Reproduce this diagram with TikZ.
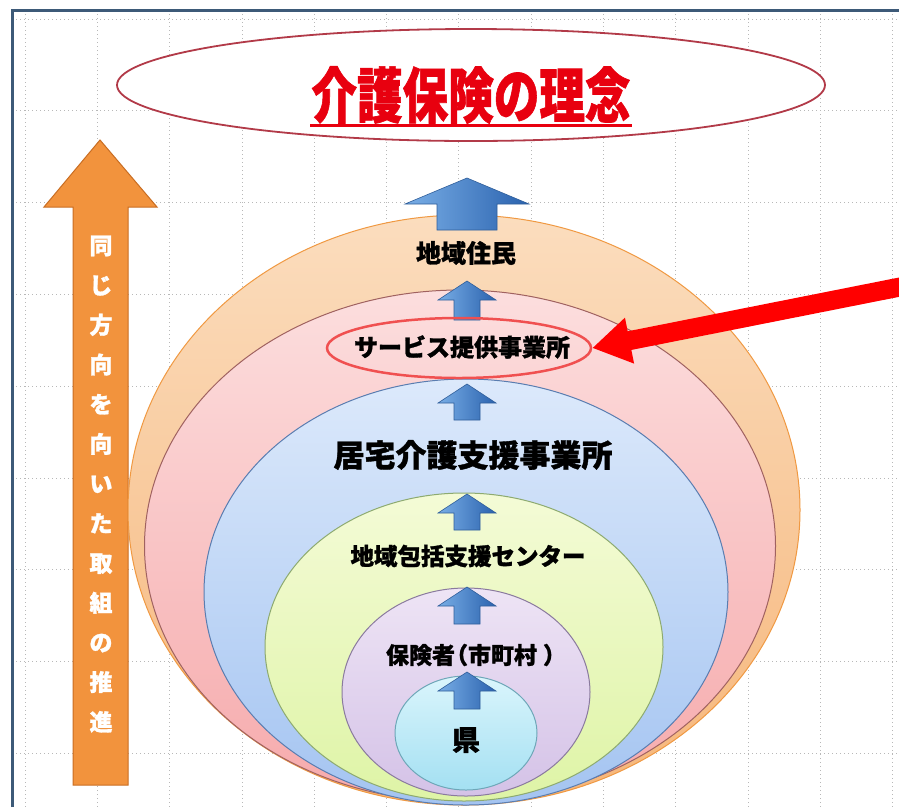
\documentclass[tikz,border=0pt]{standalone}
\usepackage{fontspec}
\newfontfamily\jp{Noto Sans CJK JP}[FakeBold=1.2]
\usetikzlibrary{shapes.geometric, arrows.meta}

\definecolor{frameBlue}{HTML}{3D5A78}
\definecolor{gridGray}{HTML}{B8B8B8}
\definecolor{titleRed}{HTML}{E8000F}
\definecolor{titleEdge}{HTML}{B23A48}
\definecolor{pushFill}{HTML}{F2933D}
\definecolor{pushEdge}{HTML}{C96D22}
\definecolor{arrowLight}{HTML}{79AEE6}
\definecolor{arrowDark}{HTML}{2A62AE}
\definecolor{arrowEdge}{HTML}{2F5E9A}

% one blue up-arrow: x, tip, bottom, head half width, shaft half width, head length
\newcommand{\raiseArrow}[6]{%
  \path[bluearrow] (#1,#2) -- (#1+#4,#2+#6) -- (#1+#5,#2+#6) -- (#1+#5,#3)
    -- (#1-#5,#3) -- (#1-#5,#2+#6) -- (#1-#4,#2+#6) -- cycle;}

\begin{document}
\begin{tikzpicture}[x=1pt, y=-1pt,
    layer/.style={ellipse, draw, line width=1pt, inner sep=0pt},
    level/.style={font=\jp\bfseries\fontsize{25}{25}\selectfont, inner sep=1pt},
    bluearrow/.style={draw=arrowEdge, line width=0.6pt,
                      left color=arrowLight, right color=arrowDark},
    gridline/.style={gridGray, line width=0.8pt, dash pattern=on 1.2pt off 2.8pt}]
  \useasboundingbox (0,0) rectangle (899,807);
  \fill[white] (0,0) rectangle (899,807);

  % Slide grid and frame.
  \foreach \gx in {25,97.3,...,895} \draw[gridline] (\gx,10) -- (\gx,807);
  \foreach \gy in {19,110.8,...,800} \draw[gridline] (12,\gy) -- (899,\gy);
  \draw[frameBlue, line width=3pt] (12,807) -- (12,10) -- (899,10);

  % Title.
  \node at (471,85) [ellipse, draw=titleEdge, line width=1.8pt, fill=white,
                     minimum width=708pt, minimum height=112pt, name=vision] {};
  \node at (471,95) [font=\jp\bfseries\fontsize{60}{60}\selectfont, text=titleRed,
                     inner sep=1pt, name=motto] {\scalebox{0.76}[1]{介護保険の理念}};
  \draw[titleRed, line width=3pt] (motto.south west) -- (motto.south east);

  % Left arrow.
  \path[fill=pushFill, draw=pushEdge, line width=1pt]
    (100,140) -- (157,207) -- (128,207) -- (128,785)
    -- (73,785) -- (73,207) -- (44,207) -- cycle;
  \node at (101,484) [font=\jp\bfseries\fontsize{23}{39.7}\selectfont, text=white,
                      align=center, name=slogan]
    {同\\じ\\方\\向\\を\\向\\い\\た\\取\\組\\の\\推\\進};

  % Nested rings.
  \node at (464,510) [layer, draw=orange!70!brown!80, top color={rgb,255:red,251;green,221;blue,190},
                      bottom color={rgb,255:red,246;green,182;blue,122},
                      minimum width=672pt, minimum height=590pt, name=ringResidents] {};
  \node at (460,546) [layer, draw={rgb,255:red,160;green,98;blue,96}, top color={rgb,255:red,252;green,222;blue,222},
                      bottom color={rgb,255:red,246;green,170;blue,172},
                      minimum width=631pt, minimum height=512pt, name=ringService] {};
  \node at (466,592) [layer, draw={rgb,255:red,90;green,125;blue,176}, top color={rgb,255:red,220;green,233;blue,251},
                      bottom color={rgb,255:red,164;green,196;blue,241},
                      minimum width=524pt, minimum height=426pt, name=ringCare] {};
  \node at (464,647) [layer, draw={rgb,255:red,141;green,170;blue,112}, top color={rgb,255:red,244;green,251;blue,214},
                      bottom color={rgb,255:red,222;green,244;blue,166},
                      minimum width=398pt, minimum height=308pt, name=ringHub] {};
  \node at (466,692) [layer, draw={rgb,255:red,138;green,122;blue,158}, top color={rgb,255:red,238;green,228;blue,245},
                      bottom color={rgb,255:red,212;green,194;blue,231},
                      minimum width=248pt, minimum height=208pt, name=ringInsurer] {};
  \node at (466,733) [layer, draw={rgb,255:red,110;green,167;blue,184}, top color={rgb,255:red,218;green,245;blue,252},
                      bottom color={rgb,255:red,164;green,224;blue,242},
                      minimum width=142pt, minimum height=114pt, name=ringPref] {};

  % Upward arrows.
  \raiseArrow{467}{178}{230}{62}{30}{26}
  \raiseArrow{467}{281}{320}{29}{13}{19}
  \raiseArrow{467}{384}{420}{29}{13}{19}
  \raiseArrow{467}{494}{530}{29}{13}{19}
  \raiseArrow{467}{587}{624}{29}{13}{19}
  \raiseArrow{467}{672}{709}{29}{13}{19}

  % Levels.
  \node at (466,253) [level, name=residents] {地域住民};
  \node at (462,347) [level, font=\jp\bfseries\fontsize{24}{24}\selectfont, name=serviceText] {サービス提供事業所};
  \node at (459,348) [ellipse, draw={rgb,255:red,240;green,80;blue,80}, line width=2.5pt,
                      minimum width=264pt, minimum height=60pt, name=service] {};
  \node at (473,455) [level, font=\jp\bfseries\fontsize{31}{31}\selectfont, name=careplan] {居宅介護支援事業所};
  \node at (468,556) [level, font=\jp\bfseries\fontsize{23.5}{23.5}\selectfont, name=hub] {地域包括支援センター};
  \node at (476,655) [level, font=\jp\bfseries\fontsize{23}{23}\selectfont, name=insurer] {保険者\kern-10pt（市町村\kern6pt）};
  \node at (466,740) [level, font=\jp\bfseries\fontsize{28}{28}\selectfont, name=prefecture] {県};

  % Pointer to the service providers.
  \coordinate (pointerFrom) at (910,285);
  \draw[red, line width=19pt, -{Triangle[width=44pt, length=38pt]}]
    (pointerFrom) -- (service.east);
\end{tikzpicture}
\end{document}
